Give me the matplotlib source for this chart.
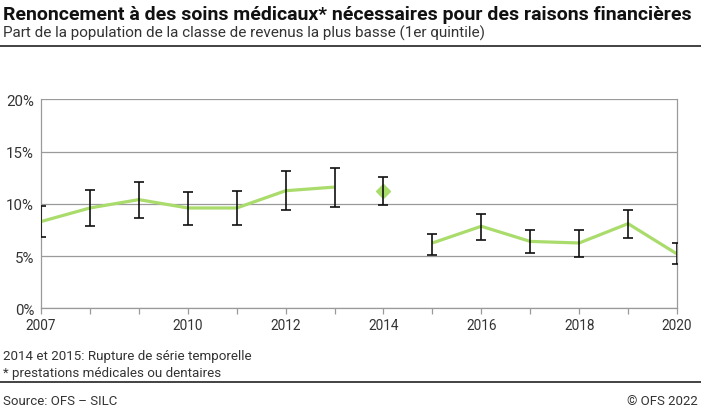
import matplotlib.pyplot as plt
import numpy as np
from matplotlib.lines import Line2D

plt.rcParams['font.family'] = ['Roboto', 'DejaVu Sans']

# données (en %)
years = np.arange(2007, 2021)
values = [8.3, 9.6, 10.4, 9.6, 9.6, 11.25, 11.6, 11.2, 6.25, 7.85, 6.4, 6.25, 8.1, 5.2]
upper = [9.8, 11.3, 12.05, 11.15, 11.2, 13.15, 13.45, 12.6, 7.15, 9.05, 7.5, 7.5, 9.45, 6.25]
lower = [6.8, 7.9, 8.65, 7.95, 8.0, 9.4, 9.65, 9.9, 5.1, 6.55, 5.25, 4.95, 6.7, 4.2]
break_year = 2014
xtick_labels = ['2007', '', '', '2010', '', '2012', '', '2014', '', '2016', '', '2018', '', '2020']

title = "Renoncement à des soins médicaux* nécessaires pour des raisons financières"
subtitle = "Part de la population de la classe de revenus la plus basse (1er quintile)"
notes = ["2014 et 2015: Rupture de série temporelle", "* prestations médicales ou dentaires"]
source = "Source: OFS – SILC"
copyright = "© OFS 2022"

green = '#aadc6c'
grey = '#9a9a9a'

fig = plt.figure(figsize=(7.01, 4.10), dpi=100)
ax = fig.add_axes([41/701, 1-309.3/410, (677-41)/701, (309.3-100.3)/410])

vals = np.array(values, dtype=float)
line_vals = vals.copy()
line_vals[years == break_year] = np.nan
ax.plot(years, line_vals, color=green, lw=2.3, solid_capstyle='butt', zorder=3)
bi = list(years).index(break_year)
ax.plot([break_year], [vals[bi]], marker='D', color=green, ms=7, ls='none', zorder=3)

err = [vals - np.array(lower), np.array(upper) - vals]
ax.errorbar(years, vals, yerr=err, fmt='none', ecolor='#111111', elinewidth=1.2,
            capsize=3.6, capthick=1.2, zorder=4)

ax.set_xlim(2007, 2020)
ax.set_ylim(0, 20)
ax.set_yticks([0, 5, 10, 15, 20])
ax.set_yticklabels(['0%', '5%', '10%', '15%', '20%'])
ax.set_xticks(years)
ax.set_xticklabels(xtick_labels)
ax.grid(axis='y', color=grey, lw=0.9)
ax.set_axisbelow(True)
for s in ax.spines.values():
    s.set_color(grey)
    s.set_linewidth(0.9)
ax.spines['top'].set_visible(False)
ax.tick_params(axis='x', length=4, color=grey, width=0.9, labelsize=9.8,
               labelcolor='#333333', pad=3)
ax.tick_params(axis='y', length=0, labelsize=10.8, labelcolor='#333333', pad=5)

# textes
fig.text(3/701, 1-20/410, title, fontsize=14, fontweight='bold', color='#111111', va='baseline')
fig.text(3/701, 1-38/410, subtitle, fontsize=11, color='#333333', va='baseline')
fig.add_artist(Line2D([0, 1], [1-47/410, 1-47/410], color='#222222', lw=1.2))
fig.text(3/701, 1-360/410, notes[0], fontsize=9.6, color='#333333', va='baseline')
fig.text(3/701, 1-377/410, notes[1], fontsize=9.6, color='#333333', va='baseline')
fig.add_artist(Line2D([0, 1], [1-383/410, 1-383/410], color='#222222', lw=1.2))
fig.text(3/701, 1-405/410, source, fontsize=9.5, color='#333333', va='baseline')
fig.text(698/701, 1-405/410, copyright, fontsize=9.5, color='#333333', va='baseline', ha='right')

fig.savefig('out.png', dpi=100)
